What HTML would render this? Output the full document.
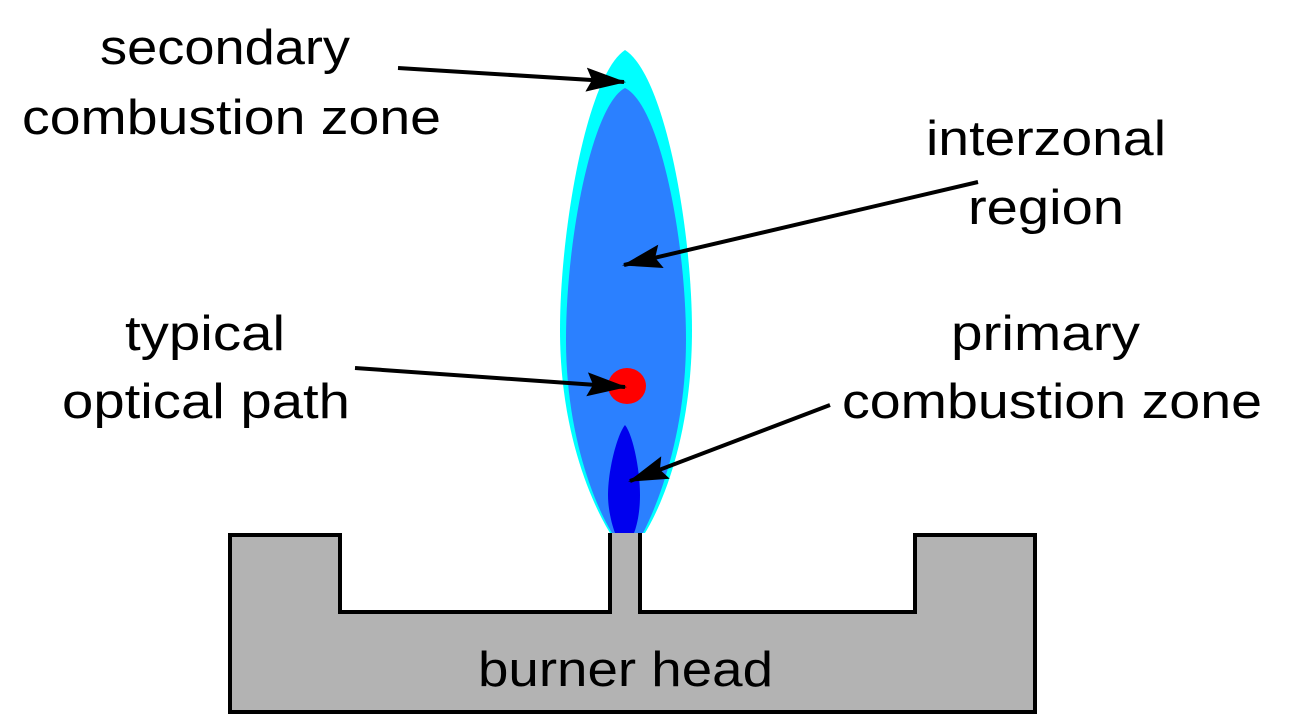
<!DOCTYPE html>
<html><head><style>
body{margin:0;background:#fff;}
svg{display:block;}
text{font-family:"Liberation Sans",sans-serif;font-size:49px;fill:#000;}
</style></head><body>
<svg width="1311" height="725" viewBox="0 0 1311 725">
<defs>
<marker id="b" viewBox="0 0 40 24" refX="38" refY="12" markerWidth="40" markerHeight="24" orient="auto" markerUnits="userSpaceOnUse"><path d="M0,0 L40,12 L0,24 L6,12 Z" fill="#000"/></marker></defs>
<path d="M625,50 C665,75 692,230 692,330 C692,430 665,500 645,533 L610,533 C590,500 560,430 560,330 C560,230 587,75 625,50 Z" fill="#00ffff"/>
<path d="M625,88 C660,105 686,240 686,340 C686,430 660,500 643,533 L612,533 C592,500 566,430 566,340 C566,240 592,105 625,88 Z" fill="#2b80ff"/>
<path d="M625,425 C633,435 640,470 640,495 C640,515 636,528 634,533 L615,533 C612,525 608,510 608,495 C608,470 617,435 625,425 Z" fill="#0000ee"/>
<ellipse cx="627" cy="386" rx="19" ry="18" fill="#ff0000"/>
<path d="M230,535 L340,535 L340,612 L610,612 L610,533 L640,533 L640,612 L915,612 L915,535 L1035,535 L1035,712 L230,712 Z" fill="#b3b3b3"/>
<path d="M610,533 L610,612 L340,612 L340,535 L230,535 L230,712 L1035,712 L1035,535 L915,535 L915,612 L640,612 L640,533" fill="none" stroke="#000" stroke-width="4"/>
<g stroke="#000" stroke-width="4" fill="none">
<line x1="398" y1="68" x2="624" y2="82" marker-end="url(#b)"/>
<line x1="978" y1="182" x2="624" y2="265" marker-end="url(#b)"/>
<line x1="355" y1="368" x2="625" y2="387" marker-end="url(#b)"/>
<line x1="830" y1="405" x2="630" y2="481" marker-end="url(#b)"/>
</g>
<text x="100" y="64" textLength="250" lengthAdjust="spacingAndGlyphs">secondary</text>
<text x="22" y="134" textLength="419" lengthAdjust="spacingAndGlyphs">combustion zone</text>
<text x="926" y="155" textLength="240" lengthAdjust="spacingAndGlyphs">interzonal</text>
<text x="968" y="224" textLength="156" lengthAdjust="spacingAndGlyphs">region</text>
<text x="125" y="350" textLength="160" lengthAdjust="spacingAndGlyphs">typical</text>
<text x="62" y="418" textLength="288" lengthAdjust="spacingAndGlyphs">optical path</text>
<text x="951" y="350" textLength="189" lengthAdjust="spacingAndGlyphs">primary</text>
<text x="842" y="418" textLength="420" lengthAdjust="spacingAndGlyphs">combustion zone</text>
<text x="478" y="686" textLength="295" lengthAdjust="spacingAndGlyphs">burner head</text>
</svg>
</body></html>
